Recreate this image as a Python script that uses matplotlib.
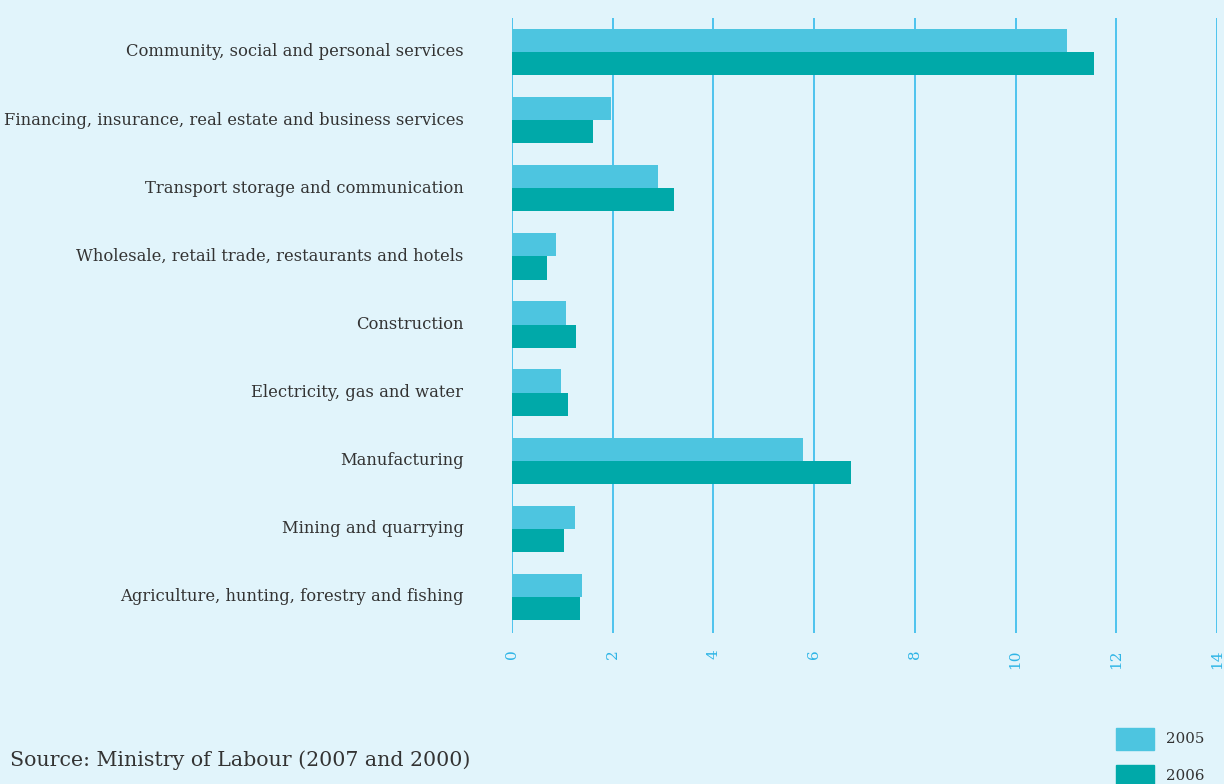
import matplotlib
matplotlib.use("Agg")
import matplotlib.pyplot as plt
from matplotlib.patches import Rectangle
import matplotlib.transforms as mtransforms
import numpy as np

categories = [
    "Community, social and personal services",
    "Financing, insurance, real estate and business services",
    "Transport storage and communication",
    "Wholesale, retail trade, restaurants and hotels",
    "Construction",
    "Electricity, gas and water",
    "Manufacturing",
    "Mining and quarrying",
    "Agriculture, hunting, forestry and fishing",
]
values_2005 = [11.02, 1.97, 2.90, 0.87, 1.07, 0.97, 5.78, 1.25, 1.39]
values_2006 = [11.56, 1.61, 3.22, 0.70, 1.27, 1.11, 6.73, 1.03, 1.35]
series_labels = ["2005", "2006"]
xticks = [0, 2, 4, 6, 8, 10, 12, 14]

bg = "#e1f4fb"
c2005 = "#4dc5e0"
c2006 = "#00a9a9"
grid_c = "#33bbec"
tick_c = "#2fb5e6"
text_c = "#333333"
serif = ["DejaVu Serif"]

W, H = 1224, 784
fig = plt.figure(figsize=(W / 100, H / 100), dpi=100, facecolor=bg)
ax = fig.add_axes([512 / W, 1 - 633 / H, (1217 - 512) / W, (633 - 18) / H])
ax.set_facecolor(bg)

y = np.arange(len(categories))
bh = 0.34
ax.barh(y - bh / 2, values_2005, height=bh, color=c2005, zorder=3, label=series_labels[0])
ax.barh(y + bh / 2, values_2006, height=bh, color=c2006, zorder=3, label=series_labels[1])

ax.set_xlim(0, 14)
ax.set_ylim(8 + 36 / 68.1, -0.5)
ax.set_xticks(xticks)
ax.set_xticklabels([str(t) for t in xticks], rotation=90, color=tick_c,
                   fontsize=11, family=serif)
ax.set_yticks(y)
ax.set_yticklabels(categories, fontsize=11.8, color=text_c, family=serif)
ax.tick_params(axis="y", length=0, pad=35)
ax.tick_params(axis="x", length=0, pad=12)
shift = mtransforms.ScaledTranslation(0, 1.5 / 72, fig.dpi_scale_trans)
for lab in ax.get_yticklabels():
    lab.set_transform(lab.get_transform() + shift)
for s in ax.spines.values():
    s.set_visible(False)
for t in xticks:
    ax.axvline(t, color=grid_c, lw=1.2, zorder=1)

# legend
for i, (lab, col) in enumerate(zip(series_labels, [c2005, c2006])):
    y0 = 728 + i * 37
    fig.add_artist(Rectangle((1116 / W, 1 - (y0 + 22) / H), 38 / W, 22 / H,
                             transform=fig.transFigure, color=col))
    fig.text(1166 / W, 1 - (y0 + 11) / H, lab, fontsize=10.8, color=text_c,
             family=serif, va="center", ha="left")

fig.text(10 / W, 1 - 760 / H, "Source: Ministry of Labour (2007 and 2000)",
         fontsize=14.75, color=text_c, family=serif, va="center", ha="left")

fig.savefig("out.png", dpi=100, facecolor=bg)
